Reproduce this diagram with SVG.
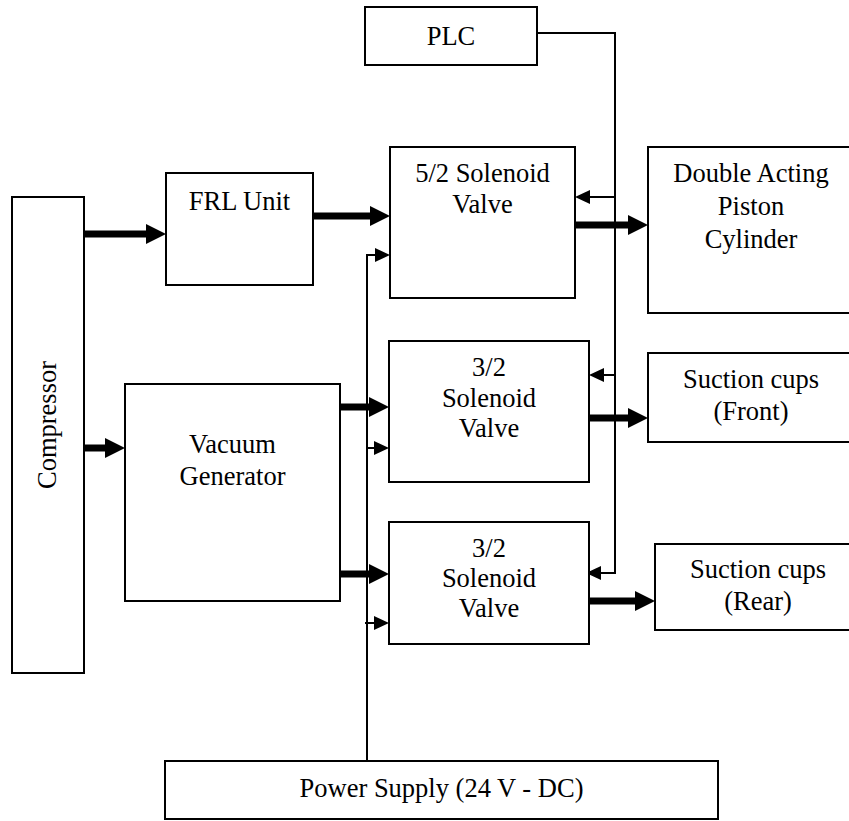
<svg xmlns="http://www.w3.org/2000/svg" width="849" height="821" viewBox="0 0 849 821" font-family="'Liberation Serif', 'Times New Roman', 'DejaVu Serif', serif">
<style>
.box{fill:#fff;stroke:#000;stroke-width:2}
.t{font-family:'Liberation Serif','Times New Roman','DejaVu Serif',serif;font-size:26.5px;fill:#000;text-anchor:middle}
.thick{stroke:#000;stroke-width:7;fill:none}
.thin{stroke:#000;stroke-width:2;fill:none}
</style>
<defs>
<marker id="bh" viewBox="0 0 20 20" markerUnits="userSpaceOnUse" markerWidth="20" markerHeight="20" refX="8" refY="10" orient="auto"><path d="M0,0 L20,10 L0,20 Z" fill="#000"/></marker>
<marker id="sh" viewBox="0 0 15 14" markerUnits="userSpaceOnUse" markerWidth="15" markerHeight="14" refX="7" refY="7" orient="auto"><path d="M0,0 L15,7 L0,14 Z" fill="#000"/></marker>
</defs>
<g id="connectors">
<line class="thick" x1="84" y1="234" x2="154" y2="234" marker-end="url(#bh)"/>
<line class="thick" x1="313" y1="216" x2="378" y2="216" marker-end="url(#bh)"/>
<line class="thick" x1="575" y1="225" x2="636" y2="225" marker-end="url(#bh)"/>
<line class="thick" x1="84" y1="448" x2="113" y2="448" marker-end="url(#bh)"/>
<line class="thick" x1="340" y1="407" x2="377" y2="407" marker-end="url(#bh)"/>
<line class="thick" x1="340" y1="574" x2="377" y2="574" marker-end="url(#bh)"/>
<line class="thick" x1="589" y1="418" x2="636" y2="418" marker-end="url(#bh)"/>
<line class="thick" x1="589" y1="601" x2="643" y2="601" marker-end="url(#bh)"/>
<path class="thin" d="M537,33 H615 V573 H594" marker-end="url(#sh)"/>
<line class="thin" x1="615" y1="197" x2="583" y2="197" marker-end="url(#sh)"/>
<line class="thin" x1="615" y1="375" x2="597" y2="375" marker-end="url(#sh)"/>
<path class="thin" d="M367,761 V255 H382" marker-end="url(#sh)"/>
<line class="thin" x1="367" y1="448" x2="381" y2="448" marker-end="url(#sh)"/>
<line class="thin" x1="365" y1="623" x2="381" y2="623" marker-end="url(#sh)"/>
</g>
<g id="plc"><rect class="box" x="365" y="7" width="172" height="58"/><text class="t" x="451" y="45">PLC</text></g>
<g id="compressor"><rect class="box" x="12" y="197" width="72" height="476"/><text class="t" transform="translate(56,425) rotate(-90)">Compressor</text></g>
<g id="frl"><rect class="box" x="166" y="173" width="147" height="112"/><text class="t" x="239.5" y="210">FRL Unit</text></g>
<g id="valve52"><rect class="box" x="390" y="147" width="185" height="151"/><text class="t" x="482.5" y="182">5/2 Solenoid</text><text class="t" x="482.5" y="213">Valve</text></g>
<g id="cylinder"><rect class="box" x="648" y="147" width="206" height="166"/><text class="t" x="751" y="182">Double Acting</text><text class="t" x="751" y="215">Piston</text><text class="t" x="751" y="248">Cylinder</text></g>
<g id="vacuum"><rect class="box" x="125" y="384" width="215" height="217"/><text class="t" x="232.5" y="453">Vacuum</text><text class="t" x="232.5" y="485">Generator</text></g>
<g id="valve32a"><rect class="box" x="389" y="341" width="200" height="141"/><text class="t" x="489" y="376">3/2</text><text class="t" x="489" y="407">Solenoid</text><text class="t" x="489" y="437">Valve</text></g>
<g id="valve32b"><rect class="box" x="389" y="522" width="200" height="122"/><text class="t" x="489" y="557">3/2</text><text class="t" x="489" y="587">Solenoid</text><text class="t" x="489" y="617">Valve</text></g>
<g id="front"><rect class="box" x="648" y="353" width="206" height="89"/><text class="t" x="751" y="388">Suction cups</text><text class="t" x="751" y="420">(Front)</text></g>
<g id="rear"><rect class="box" x="655" y="544" width="206" height="86"/><text class="t" x="758" y="578">Suction cups</text><text class="t" x="758" y="610">(Rear)</text></g>
<g id="power"><rect class="box" x="165" y="761" width="553" height="58"/><text class="t" x="441.5" y="797">Power Supply (24 V - DC)</text></g>
</svg>
